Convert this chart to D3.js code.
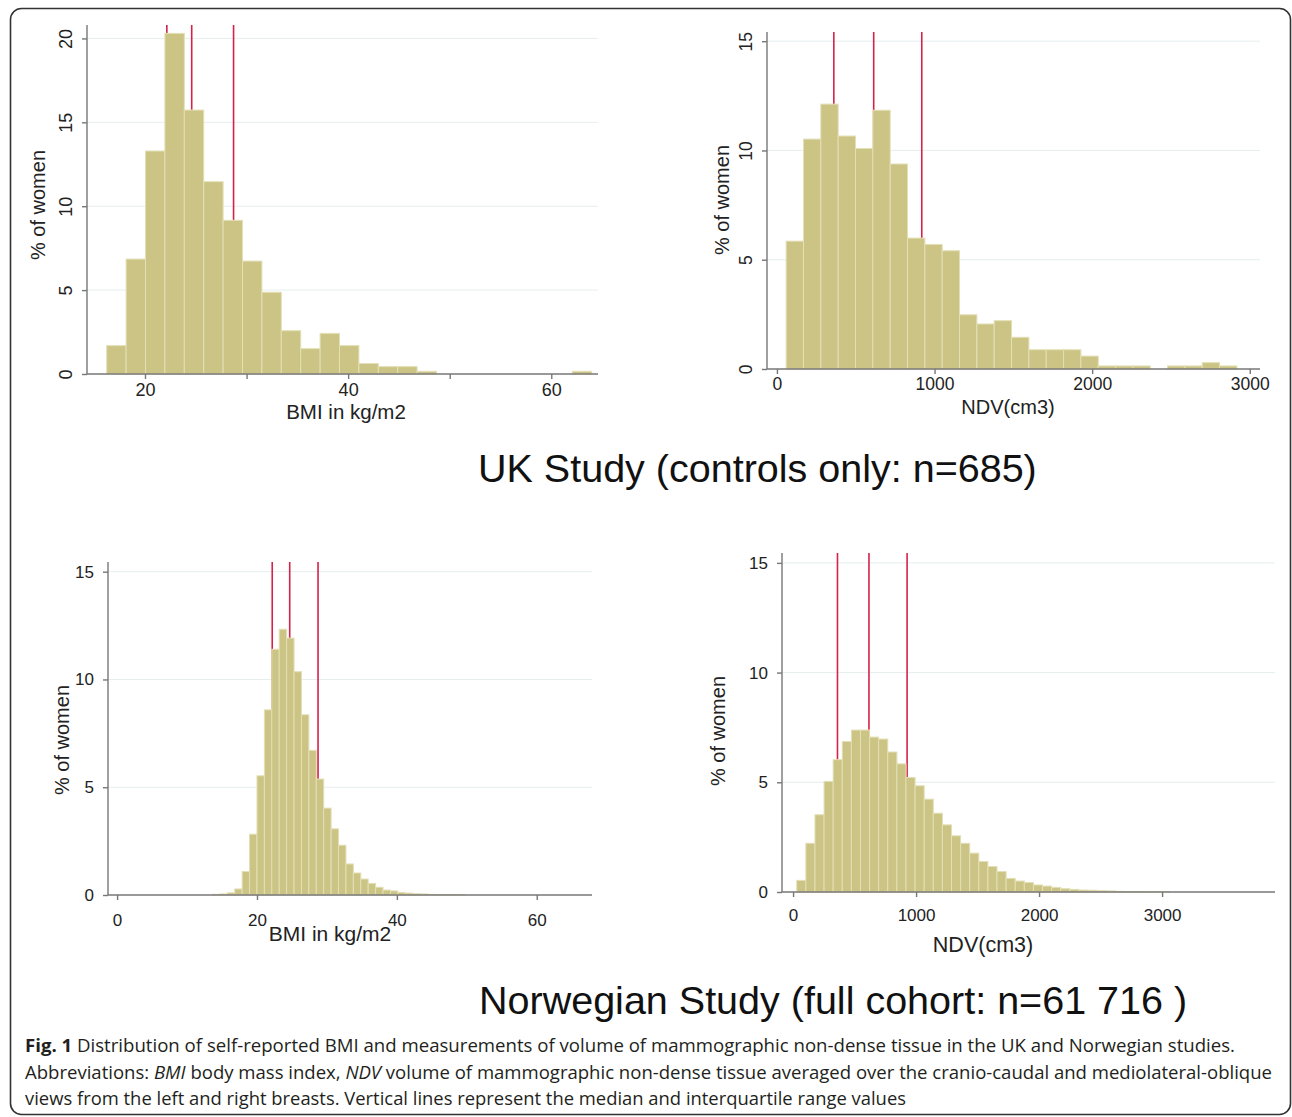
<!DOCTYPE html>
<meta charset="utf-8">
<style type="text/css">
body { margin: 0; background: #fff; }
svg { display: block; font-family: "Liberation Sans", Arial, sans-serif; }
.axis path, .axis line { stroke: #777; stroke-width: 1.4; }
.axis text { fill: #222; }
.grid { stroke: #e6eeee; stroke-width: 1; }
.qline { stroke: #d6214a; stroke-width: 1.6; }
.bar { fill: #cbc484; stroke: #e3dfb6; stroke-width: 1; }
</style>
<svg width="1292" height="1117"></svg>
<script src="https://d3js.org/d3.v7.min.js"></script>
<script>

// UK study, BMI (25 bins)
var ukBmiStart = 16.23, ukBmiWidth = 1.91;
var ukBmiPct = [1.69, 6.85, 13.29, 20.3, 15.73, 11.46, 9.16, 6.73, 4.87, 2.58, 1.51, 2.42, 1.69,
	0.62, 0.44, 0.44, 0.16, 0, 0, 0, 0, 0, 0, 0, 0.16];
var ukBmiQuart = [22.15, 24.6, 28.72];
var ukBmiXTicks = [20, 30, 40, 50, 60];
var ukBmiXLabels = ["20", "", "40", "", "60"];

// UK study, NDV (26 bins)
var ukNdvStart = 58.6, ukNdvWidth = 110;
var ukNdvPct = [5.85, 10.52, 12.12, 10.66, 10.09, 11.84, 9.38, 5.99, 5.7, 5.41, 2.48, 2.06, 2.21,
	1.45, 0.88, 0.88, 0.88, 0.59, 0.14, 0.14, 0.14, 0, 0.14, 0.14, 0.29, 0.14];
var ukNdvQuart = [361, 614, 919];
var ndvXTicks = [0, 1000, 2000, 3000];
var ndvXLabels = ["0", "1000", "2000", "3000"];

// Norwegian study, BMI (47 bins)
var noBmiStart = 13.64, noBmiWidth = 1.06;
var noBmiPct = [0.03, 0.05, 0.1, 0.28, 1.09, 2.82, 5.53, 8.59, 11.4, 12.33, 11.92, 10.36, 8.36,
	6.71, 5.38, 4.03, 3.07, 2.31, 1.44, 1.02, 0.74, 0.54, 0.36, 0.23, 0.19, 0.12, 0.09, 0.06,
	0.05, 0.03, 0.02, 0.01, 0.01, 0.01, 0, 0, 0, 0, 0, 0, 0, 0, 0, 0, 0, 0, 0];
var noBmiQuart = [22.18, 24.68, 28.73];
var noBmiXTicks = [0, 20, 40, 60];
var noBmiXLabels = ["0", "20", "40", "60"];

// Norwegian study, NDV (47 bins)
var noNdvStart = 30, noNdvWidth = 74;
var noNdvPct = [0.53, 2.22, 3.52, 5.04, 6.03, 6.86, 7.38, 7.38, 7.06, 6.97, 6.38, 5.84, 5.22,
	4.84, 4.23, 3.59, 3.06, 2.56, 2.22, 1.77, 1.39, 1.16, 0.93, 0.62, 0.5, 0.43, 0.32, 0.27,
	0.21, 0.15, 0.12, 0.09, 0.08, 0.06, 0.05, 0.03, 0.02, 0.02, 0.01, 0.01, 0.01, 0, 0, 0, 0, 0, 0];
var noNdvQuart = [361, 617, 927];

var yTicks20 = [0, 5, 10, 15, 20];
var yTicks15 = [0, 5, 10, 15];

var svg = d3.select("svg");

svg.append("rect")
		.attr("x", 10.5).attr("y", 8.5)
		.attr("width", 1280).attr("height", 1106)
		.attr("rx", 11)
		.attr("fill", "none")
		.attr("stroke", "#333")
		.attr("stroke-width", 1.6);

var panels = [
	{ start: ukBmiStart, width: ukBmiWidth, pct: ukBmiPct, quart: ukBmiQuart,
		xTicks: ukBmiXTicks, xLabels: ukBmiXLabels, yTicks: yTicks20,
		left: 87, right: 598, top: 25, bottom: 374, xDom: [14.29, 64.6], yDom: [0, 20.8],
		rotY: true, tickFont: 18, xPad: 4, xTitle: "BMI in kg/m2", xTitleX: 346, xTitleY: 419, xTitleFont: 20.5,
		yTitleX: 38, yTitleY: 205 },
	{ start: ukNdvStart, width: ukNdvWidth, pct: ukNdvPct, quart: ukNdvQuart,
		xTicks: ndvXTicks, xLabels: ndvXLabels, yTicks: yTicks15,
		left: 767, right: 1260, top: 32, bottom: 369, xDom: [-63, 3065], yDom: [0, 15.42],
		rotY: true, tickFont: 17.5, xPad: 4, xTitle: "NDV(cm3)", xTitleX: 1008, xTitleY: 414, xTitleFont: 20,
		yTitleX: 722, yTitleY: 200 },
	{ start: noBmiStart, width: noBmiWidth, pct: noBmiPct, quart: noBmiQuart,
		xTicks: noBmiXTicks, xLabels: noBmiXLabels, yTicks: yTicks15,
		left: 108, right: 592, top: 562, bottom: 895, xDom: [-1.3, 67.9], yDom: [0, 15.45],
		rotY: false, tickFont: 17, xPad: 14, xTitle: "BMI in kg/m2", xTitleX: 330, xTitleY: 941, xTitleFont: 21,
		yTitleX: 62, yTitleY: 740 },
	{ start: noNdvStart, width: noNdvWidth, pct: noNdvPct, quart: noNdvQuart,
		xTicks: ndvXTicks, xLabels: ndvXLabels, yTicks: yTicks15,
		left: 782, right: 1275, top: 553, bottom: 892, xDom: [-90, 3918], yDom: [0, 15.45],
		rotY: false, tickFont: 17, xPad: 12, xTitle: "NDV(cm3)", xTitleX: 983, xTitleY: 952, xTitleFont: 21.5,
		yTitleX: 718, yTitleY: 731 }
];

panels.forEach(function(p) {
	var x = d3.scaleLinear().domain(p.xDom).range([p.left, p.right]);
	var y = d3.scaleLinear().domain(p.yDom).range([p.bottom, p.top]);
	var g = svg.append("g");

	g.selectAll(".grid")
		.data(p.yTicks.filter(function(d) { return d > 0; }))
		.enter().append("line")
			.attr("class", "grid")
			.attr("x1", p.left).attr("x2", p.right)
			.attr("y1", function(d) { return y(d); })
			.attr("y2", function(d) { return y(d); });

	// quartile lines sit under the bars, as in Stata
	g.selectAll(".qline")
		.data(p.quart)
		.enter().append("line")
			.attr("class", "qline")
			.attr("x1", function(d) { return x(d); })
			.attr("x2", function(d) { return x(d); })
			.attr("y1", p.top).attr("y2", p.bottom);

	g.selectAll(".bar")
		.data(p.pct.map(function(v, i) { return { x0: p.start + i * p.width, v: v }; })
			.filter(function(d) { return d.v > 0; }))
		.enter().append("rect")
			.attr("class", "bar")
			.attr("x", function(d) { return x(d.x0); })
			.attr("width", function(d) { return x(d.x0 + p.width) - x(d.x0); })
			.attr("y", function(d) { return y(d.v); })
			.attr("height", function(d) { return p.bottom - y(d.v); });

	var xAxis = g.append("g")
			.attr("class", "axis")
			.attr("transform", "translate(0," + p.bottom + ")")
			.call(d3.axisBottom(x)
				.tickValues(p.xTicks)
				.tickFormat(function(d, i) { return p.xLabels[i]; })
				.tickSize(5).tickSizeOuter(0).tickPadding(p.xPad));
	xAxis.selectAll("text").attr("font-size", p.tickFont);

	var yAxis = g.append("g")
			.attr("class", "axis")
			.attr("transform", "translate(" + p.left + ",0)")
			.call(d3.axisLeft(y)
				.tickValues(p.yTicks)
				.tickSize(5).tickSizeOuter(0).tickPadding(9));
	yAxis.selectAll("text").attr("font-size", p.tickFont);
	if (p.rotY) {
		yAxis.selectAll("text")
				.attr("transform", "rotate(-90)")
				.attr("text-anchor", "middle")
				.attr("x", 0)
				.attr("y", -15)
				.attr("dy", 0);
	} else {
		yAxis.selectAll("text").attr("x", -14);
	}
	xAxis.select(".domain").attr("d", "M" + p.left + ",0H" + p.right);
	yAxis.select(".domain").attr("d", "M0," + p.top + "V" + p.bottom);

	g.append("text")
			.attr("x", p.xTitleX)
			.attr("y", p.xTitleY)
			.attr("text-anchor", "middle")
			.attr("font-size", p.xTitleFont)
			.attr("fill", "#222")
			.text(p.xTitle);

	g.append("text")
			.attr("transform", "translate(" + (p.yTitleX + 7) + "," + p.yTitleY + ") rotate(-90)")
			.attr("text-anchor", "middle")
			.attr("font-size", 20)
			.attr("fill", "#222")
			.text("% of women");
});

svg.append("text")
		.attr("x", 478).attr("y", 482)
		.attr("font-size", 39.5)
		.attr("fill", "#111")
		.text("UK Study (controls only: n=685)");

svg.append("text")
		.attr("x", 479).attr("y", 1014)
		.attr("font-size", 39.5)
		.attr("fill", "#111")
		.text("Norwegian Study (full cohort: n=61 716 )");

var caption = [
	{ len: 1210, parts: [["Fig. 1", "bold"], [" Distribution of self-reported BMI and measurements of volume of mammographic non-dense tissue in the UK and Norwegian studies.", ""]] },
	{ len: 1247, parts: [["Abbreviations: ", ""], ["BMI", "italic"], [" body mass index, ", ""], ["NDV", "italic"],
		[" volume of mammographic non-dense tissue averaged over the cranio-caudal and mediolateral-oblique", ""]] },
	{ len: 881, parts: [["views from the left and right breasts. Vertical lines represent the median and interquartile range values", ""]] }
];

svg.selectAll(".caption")
	.data(caption)
	.enter().append("text")
		.attr("class", "caption")
		.attr("x", 25)
		.attr("y", function(d, i) { return 1052 + i * 26.5; })
		.attr("font-family", "'Open Sans', sans-serif")
		.attr("font-size", 18)
		.attr("fill", "#231f20")
		.attr("textLength", function(d) { return d.len; })
		.attr("lengthAdjust", "spacingAndGlyphs")
	.selectAll("tspan")
	.data(function(d) { return d.parts; })
	.enter().append("tspan")
		.attr("font-weight", function(d) { return d[1] === "bold" ? "bold" : null; })
		.attr("font-style", function(d) { return d[1] === "italic" ? "italic" : null; })
		.text(function(d) { return d[0]; });

</script>
